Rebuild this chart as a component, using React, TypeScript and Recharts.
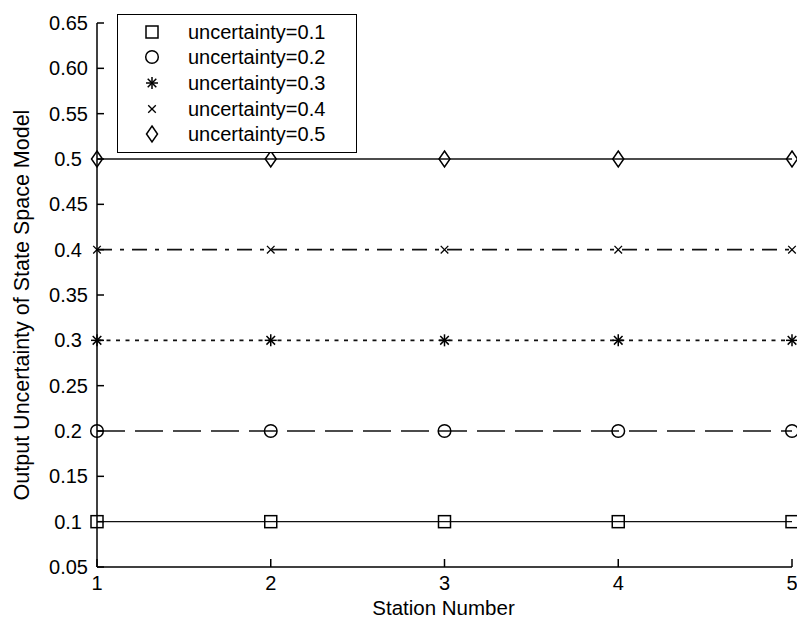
import React from 'react';
import { LineChart, Line, XAxis, YAxis, Legend } from 'recharts';

const stations = [1, 2, 3, 4, 5];
const unc01 = [0.1, 0.1, 0.1, 0.1, 0.1];
const unc02 = [0.2, 0.2, 0.2, 0.2, 0.2];
const unc03 = [0.3, 0.3, 0.3, 0.3, 0.3];
const unc04 = [0.4, 0.4, 0.4, 0.4, 0.4];
const unc05 = [0.5, 0.5, 0.5, 0.5, 0.5];
const seriesNames = ['uncertainty=0.1', 'uncertainty=0.2', 'uncertainty=0.3', 'uncertainty=0.4', 'uncertainty=0.5'];
const xTicks = [1, 2, 3, 4, 5];
const yTicks = [0.05, 0.1, 0.15, 0.2, 0.25, 0.3, 0.35, 0.4, 0.45, 0.5, 0.55, 0.6, 0.65];
const yTickLabels = ['0.05', '0.1', '0.15', '0.2', '0.25', '0.3', '0.35', '0.4', '0.45', '0.5', '0.55', '0.60', '0.65'];
const xLabel = 'Station Number';
const yLabel = 'Output Uncertainty of State Space Model';

const data = stations.map((s, i) => ({
  station: s,
  u1: unc01[i],
  u2: unc02[i],
  u3: unc03[i],
  u4: unc04[i],
  u5: unc05[i],
}));

type MarkerType = 'square' | 'circle' | 'asterisk' | 'cross' | 'diamond';

const series: { key: string; name: string; dash?: string; marker: MarkerType; width: number }[] = [
  { key: 'u1', name: seriesNames[0], marker: 'square', width: 1.3 },
  { key: 'u2', name: seriesNames[1], dash: '28 10', marker: 'circle', width: 1.6 },
  { key: 'u3', name: seriesNames[2], dash: '4 5.5', marker: 'asterisk', width: 1.6 },
  { key: 'u4', name: seriesNames[3], dash: '15 8 4 8', marker: 'cross', width: 1.6 },
  { key: 'u5', name: seriesNames[4], marker: 'diamond', width: 1.3 },
];

const FONT = '"Liberation Sans", Arial, Helvetica, sans-serif';
const INK = '#000';

function MarkerShape({ type, cx, cy }: { type: MarkerType; cx: number; cy: number }) {
  const common = { fill: 'none', stroke: INK, strokeWidth: 1.5 };
  switch (type) {
    case 'square':
      return <rect x={cx - 6} y={cy - 6} width={12} height={12} {...common} />;
    case 'circle':
      return <circle cx={cx} cy={cy} r={6.3} {...common} />;
    case 'asterisk': {
      const s = 6;
      const d = 4.3;
      return (
        <g {...common}>
          <line x1={cx - s} y1={cy} x2={cx + s} y2={cy} />
          <line x1={cx} y1={cy - s} x2={cx} y2={cy + s} />
          <line x1={cx - d} y1={cy - d} x2={cx + d} y2={cy + d} />
          <line x1={cx - d} y1={cy + d} x2={cx + d} y2={cy - d} />
        </g>
      );
    }
    case 'cross': {
      const d = 3.8;
      return (
        <g {...common} strokeWidth={1.3}>
          <line x1={cx - d} y1={cy - d} x2={cx + d} y2={cy + d} />
          <line x1={cx - d} y1={cy + d} x2={cx + d} y2={cy - d} />
        </g>
      );
    }
    case 'diamond':
    default:
      return (
        <polygon
          points={`${cx},${cy - 8} ${cx + 5.5},${cy} ${cx},${cy + 8} ${cx - 5.5},${cy}`}
          {...common}
        />
      );
  }
}

const makeDot = (type: MarkerType, key: string) => (props: any) => {
  const { cx, cy, index } = props;
  if (cx == null || cy == null) return <g key={`${key}-${index}`} />;
  return (
    <g key={`${key}-${index}`}>
      <MarkerShape type={type} cx={cx} cy={cy} />
    </g>
  );
};

const YTick = (props: any) => {
  const { x, y, payload } = props;
  const i = yTicks.indexOf(payload.value);
  const label = i >= 0 ? yTickLabels[i] : String(payload.value);
  const shift = label.length <= 3 ? -6 : 0;
  return (
    <g>
      <line x1={x} y1={y} x2={x + 7} y2={y} stroke={INK} strokeWidth={1.5} />
      <text
        x={x - 9 + shift}
        y={y + 7}
        textAnchor="end"
        fontSize={20}
        fontFamily={FONT}
        fill={INK}
      >
        {label}
      </text>
    </g>
  );
};

const XTick = (props: any) => {
  const { x, y, payload } = props;
  return (
    <g>
      <line x1={x} y1={y} x2={x} y2={y - 8} stroke={INK} strokeWidth={1.5} />
      <text x={x} y={y + 23} textAnchor="middle" fontSize={20} fontFamily={FONT} fill={INK}>
        {String(payload.value)}
      </text>
    </g>
  );
};

const YLabel = (props: any) => {
  const vb = props.viewBox || { x: 37, y: 23, width: 60, height: 544 };
  const cx = vb.x - 15;
  const cy = vb.y + vb.height / 2 + 10;
  return (
    <text
      x={cx}
      y={cy}
      transform={`rotate(-90 ${cx} ${cy})`}
      textAnchor="middle"
      dominantBaseline="central"
      fontSize={21.5}
      fontFamily={FONT}
      fill={INK}
    >
      {yLabel}
    </text>
  );
};

const XLabel = (props: any) => {
  const vb = props.viewBox || { x: 97, y: 567, width: 695, height: 30 };
  const cx = vb.x + vb.width / 2 - 1;
  return (
    <text x={cx} y={615} textAnchor="middle" fontSize={20.5} fontFamily={FONT} fill={INK}>
      {xLabel}
    </text>
  );
};

const LegendBox = () => (
  <div
    style={{
      boxSizing: 'border-box',
      width: 240,
      height: 139,
      border: '1.5px solid #000',
      background: '#fff',
      paddingTop: 4,
      fontFamily: FONT,
    }}
  >
    {series.map((s) => (
      <div key={s.key} style={{ display: 'flex', alignItems: 'center', height: 25.6 }}>
        <svg width={70} height={24} style={{ display: 'block' }}>
          <MarkerShape type={s.marker} cx={34} cy={12} />
        </svg>
        <span style={{ fontSize: 20, color: '#000', lineHeight: '24px', whiteSpace: 'nowrap' }}>
          {s.name}
        </span>
      </div>
    ))}
  </div>
);

export default function App() {
  return (
    <div style={{ position: 'absolute', left: 0, top: 0, width: 797, height: 623, background: '#fff' }}>
      <LineChart
        width={797}
        height={623}
        data={data}
        margin={{ top: 23, right: 5, bottom: 26, left: 37 }}
        style={{ fontFamily: FONT }}
      >
        <XAxis
          dataKey="station"
          type="number"
          domain={[1, 5]}
          ticks={xTicks}
          interval={0}
          height={30}
          tickSize={0}
          tickMargin={0}
          tickLine={false}
          axisLine={{ stroke: INK, strokeWidth: 1.5 }}
          tick={<XTick />}
          label={<XLabel />}
        />
        <YAxis
          type="number"
          domain={[0.05, 0.65]}
          ticks={yTicks}
          interval={0}
          width={60}
          tickSize={0}
          tickMargin={0}
          tickLine={false}
          allowDataOverflow
          axisLine={{ stroke: INK, strokeWidth: 1.5 }}
          tick={<YTick />}
          label={<YLabel />}
        />
        <Legend
          layout="vertical"
          align="center"
          verticalAlign="middle"
          content={<LegendBox />}
          wrapperStyle={{ position: 'absolute', left: 117, top: 14, width: 240, height: 139, margin: 0 }}
        />
        {series.map((s) => (
          <Line
            key={s.key}
            dataKey={s.key}
            name={s.name}
            type="linear"
            stroke="#111"
            strokeWidth={s.width}
            strokeDasharray={s.dash}
            dot={makeDot(s.marker, s.key)}
            activeDot={false}
            isAnimationActive={false}
            legendType="none"
          />
        ))}
      </LineChart>
    </div>
  );
}
